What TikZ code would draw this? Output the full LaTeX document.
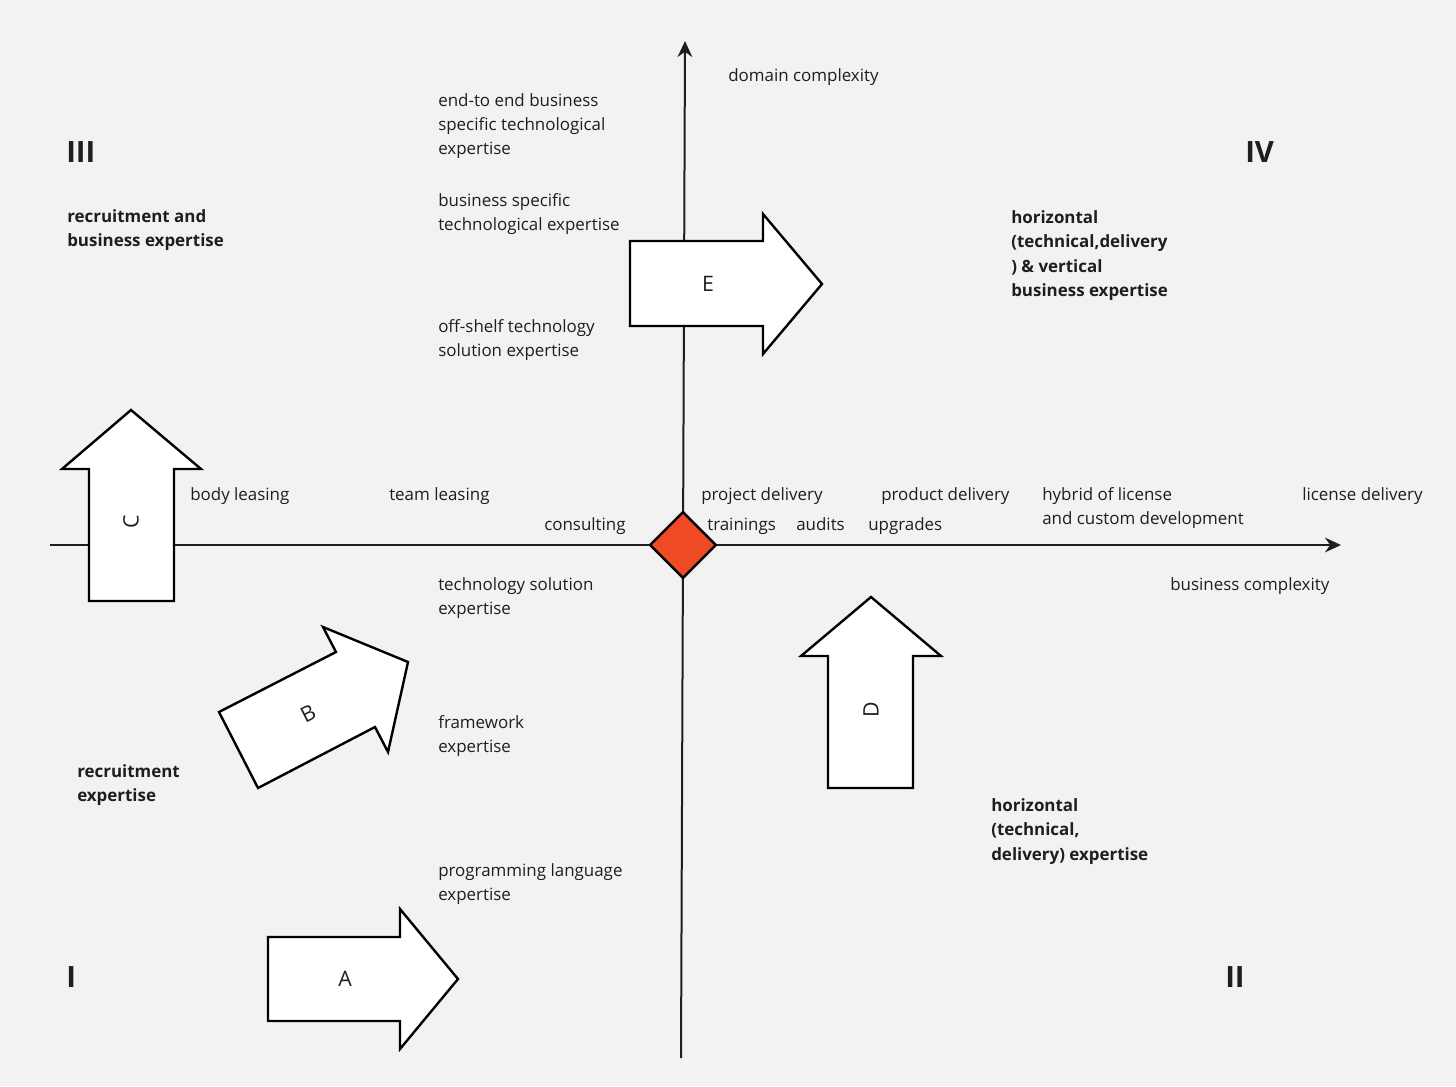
\documentclass[tikz,border=0pt]{standalone}
\usepackage{fontspec}
\setmainfont{Open Sans}
\usetikzlibrary{arrows.meta,shapes.geometric}
\definecolor{bg}{HTML}{F2F2F2}
\definecolor{ink}{HTML}{1E1E1E}
\definecolor{redd}{HTML}{F04A25}
\begin{document}
\begin{tikzpicture}[x=0.75pt,y=-0.75pt,
 lbl/.style={anchor=west,align=left,inner sep=0pt,text=ink,font=\fontsize{12.7}{18.2}\selectfont},
 blbl/.style={anchor=west,align=left,inner sep=0pt,text=ink,font=\fontsize{12.7}{18.4}\selectfont\bfseries},
 roman/.style={anchor=west,inner sep=0pt,text=ink,font=\fontsize{22}{22}\selectfont\bfseries},
 arrowshape/.style={draw=black,line width=1.8pt,fill=white,line join=miter},
 arrlbl/.style={inner sep=0pt,text=ink,font=\fontsize{16}{16}\selectfont},
 axisline/.style={draw=ink,line width=1.5pt,-{Stealth[length=12pt,width=11pt]}}]
\fill[bg] (0,0) rectangle (1456,1086);
\useasboundingbox (0,0) rectangle (1456,1086);

% axes
\coordinate (xl) at (50,545);
\coordinate (xr) at (1341,545);
\coordinate (yb) at (681,1058);
\coordinate (yt) at (685,41);
\draw[axisline] (xl) -- (xr);
\draw[axisline] (yb) -- (yt);

% origin diamond
\node[diamond,draw=black,line width=1.8pt,fill=redd,minimum width=50pt,minimum height=50pt,inner sep=0pt] (o) at (683,545) {};

% arrow C (up)
\draw[arrowshape] (89,601) -- (174,601) -- (174,469) -- (201,469) -- (131,410) -- (62,469) -- (89,469) -- cycle;
\node[arrlbl,rotate=90] (c) at (131,522) {C};
% arrow D (up)
\draw[arrowshape] (828,788) -- (913,788) -- (913,656) -- (941,656) -- (871,597) -- (801,656) -- (828,656) -- cycle;
\node[arrlbl,rotate=90] (d) at (871,710) {D};
% arrow E (right)
\draw[arrowshape] (630,241) -- (763,241) -- (763,214) -- (822,284) -- (763,354) -- (763,326) -- (630,326) -- cycle;
\node[arrlbl] (e) at (708,284) {E};
% arrow A (right)
\draw[arrowshape] (268,937) -- (400,937) -- (400,909) -- (458,979) -- (400,1049) -- (400,1021) -- (268,1021) -- cycle;
\node[arrlbl] (a) at (345,979) {A};
% arrow B (diagonal)
\draw[arrowshape] (219,712) -- (336,652) -- (323,627) -- (408,662) -- (388,752) -- (375,727) -- (258,788) -- cycle;
\node[arrlbl,rotate=27] (b) at (308,714) {B};

% quadrant numerals
\node[roman] (q3) at (66,152) {III};
\node[roman] (q4) at (1245,152) {IV};
\node[roman] (q1) at (66,977) {I};
\node[roman] (q2) at (1225,977) {II};

% bold quadrant texts
\node[blbl] (t3) at (67,230) {recruitment and\\business expertise};
\node[blbl] (t4) at (1011,255.5) {horizontal\\(technical,delivery\\) \& vertical\\business expertise};
\node[blbl] (t1) at (77,785) {recruitment\\expertise};
\node[blbl] (t2) at (991,831.5) {horizontal\\(technical,\\delivery) expertise};

% vertical axis texts
\node[lbl] (dc) at (728,77) {domain complexity};
\node[lbl] (v1) at (438,126) {end-to end business\\specific technological\\expertise};
\node[lbl] (v2) at (438,214) {business specific\\technological expertise};
\node[lbl] (v3) at (438,340) {off-shelf technology\\solution expertise};
\node[lbl] (v4) at (438,598) {technology solution\\expertise};
\node[lbl] (v5) at (438,736) {framework\\expertise};
\node[lbl] (v6) at (438,884) {programming language\\expertise};

% horizontal axis texts
\node[lbl] (h1) at (190,496) {body leasing};
\node[lbl] (h2) at (389,496) {team leasing};
\node[lbl] (h3) at (544,526) {consulting};
\node[lbl] (h4) at (701,496) {project delivery};
\node[lbl] (h5) at (707,526) {trainings};
\node[lbl] (h6) at (796,524) {audits};
\node[lbl] (h7) at (881,496) {product delivery};
\node[lbl] (h8) at (868,526) {upgrades};
\node[lbl] (h9) at (1042,508) {hybrid of license\\and custom development};
\node[lbl] (h10) at (1302,496) {license delivery};
\node[lbl] (bc) at (1170,586) {business complexity};
\end{tikzpicture}
\end{document}
